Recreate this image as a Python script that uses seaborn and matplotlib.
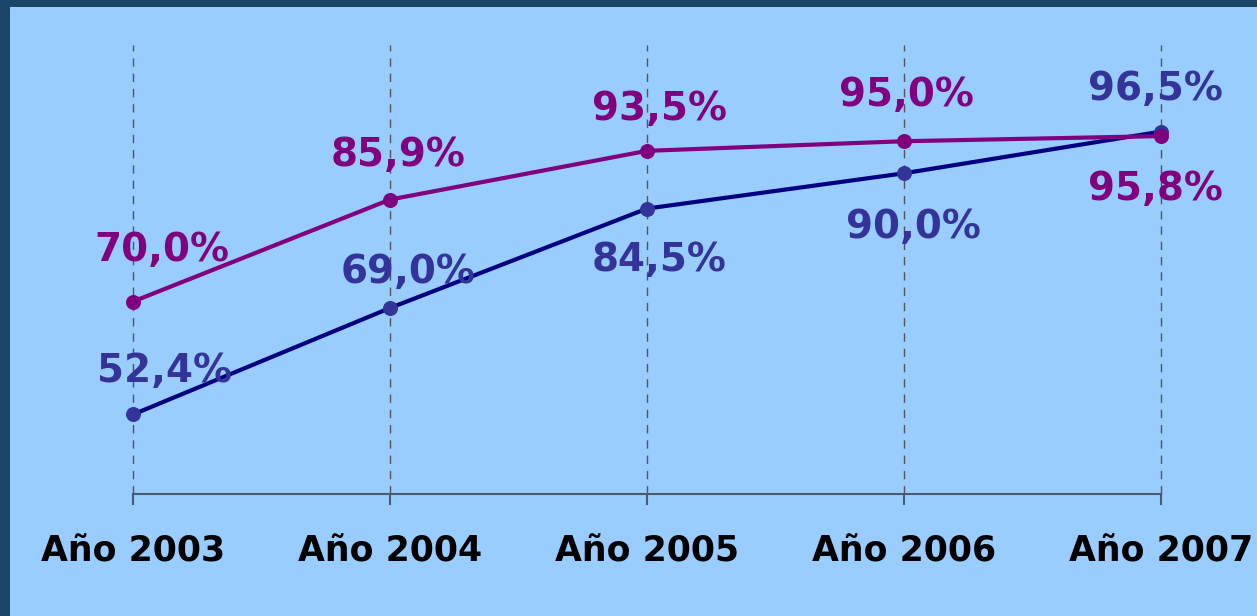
import matplotlib
matplotlib.use("Agg")
import matplotlib.pyplot as plt
import seaborn as sns
import pandas as pd
from matplotlib.patches import Rectangle

years = ["Año 2003", "Año 2004", "Año 2005", "Año 2006", "Año 2007"]
serie_morada = [70.0, 85.9, 93.5, 95.0, 95.8]
serie_azul = [52.4, 69.0, 84.5, 90.0, 96.5]

sns.set_theme(style="white")
plt.rcParams['font.family'] = ['DejaVu Sans']

W, H = 1257, 616
fig = plt.figure(figsize=(W / 100, H / 100), dpi=100)
fig.patch.set_facecolor("#1A4566")
fig.add_artist(Rectangle((10 / W, 0), 1, 1 - 7 / H, transform=fig.transFigure,
                         facecolor="#99CCFF", edgecolor="none", zorder=0))

ax = fig.add_axes([133 / W, 122 / H, (1161 - 133) / W, (494 - 45) / H])
ax.set_facecolor("none")

df = pd.DataFrame({
    "x": list(range(len(years))) * 2,
    "v": serie_morada + serie_azul,
    "s": ["m"] * len(years) + ["a"] * len(years),
})

sns.lineplot(data=df[df.s == "a"], x="x", y="v", ax=ax, color="#000080", lw=3,
             marker="o", markersize=10, markerfacecolor="#333399",
             markeredgecolor="#333399", clip_on=False, zorder=3)
sns.lineplot(data=df[df.s == "m"], x="x", y="v", ax=ax, color="#800080", lw=3,
             marker="o", markersize=10, markerfacecolor="#800080",
             markeredgecolor="#800080", clip_on=False, zorder=4)

ax.set_xlim(0, len(years) - 1)
ax.set_ylim(40, 110)

for i in range(len(years)):
    ax.axvline(i, color="#555555", lw=1, ls=(0, (6, 5)), zorder=1, clip_on=False)

for sp in ["top", "right", "left"]:
    ax.spines[sp].set_visible(False)
ax.spines["bottom"].set_color("#4A5A70")
ax.spines["bottom"].set_linewidth(1.5)
ax.set_yticks([])
ax.set_xticks(range(len(years)))
ax.set_xticklabels(years, fontsize=25, fontweight="bold", color="black")
ax.tick_params(axis="x", bottom=True, direction="out", length=8, width=1.5,
               color="#4A5A70", pad=21)
for t in ax.get_xticklabels():
    t.set_clip_on(False)
ax.set_xlabel("")
ax.set_ylabel("")

off_m = [(21, 37), (6, 32), (9, 30), (2, 33), (-4, -38)]
off_a = [(23, 31), (13, 26), (9, -37), (7, -39), (-4, 31)]

def fmt(v):
    return f"{v:.1f}%".replace(".", ",")

for i, v in enumerate(serie_morada):
    ax.annotate(fmt(v), (i, v), xytext=off_m[i], textcoords="offset points",
                ha="center", va="center", fontsize=28, fontweight="bold",
                color="#800080", annotation_clip=False, zorder=5)
for i, v in enumerate(serie_azul):
    ax.annotate(fmt(v), (i, v), xytext=off_a[i], textcoords="offset points",
                ha="center", va="center", fontsize=28, fontweight="bold",
                color="#333399", annotation_clip=False, zorder=5)

fig.savefig("out.png", dpi=100, facecolor=fig.get_facecolor())
